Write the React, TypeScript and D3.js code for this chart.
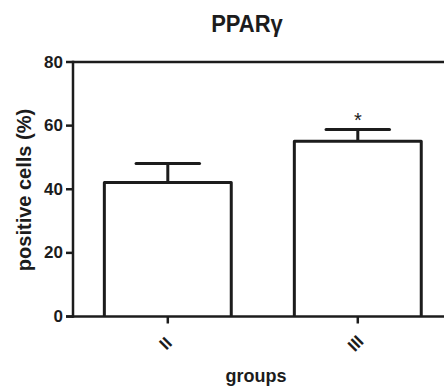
import React from "react";
import * as d3 from "d3";

const categories = ["II", "III"];
const means = [42.1, 55.1];
const errors = [6.0, 3.7];
const significance = ["", "*"];
const yTicks = [0, 20, 40, 60, 80];
const title = "PPARγ";
const yLabel = "positive cells (%)";
const xLabel = "groups";

const W = 444;
const H = 392;
const FONT = "'Liberation Sans', Arial, Helvetica, sans-serif";
const INK = "#1c1c1c";

export default function App() {
  const left = 73;
  const y = d3.scaleLinear().domain([0, 80]).range([316.5, 62]);
  const x = d3
    .scaleBand<string>()
    .domain(categories)
    .range([left, 452.6])
    .paddingInner(0.332)
    .paddingOuter(0.165);
  const bw = x.bandwidth();

  return (
    <svg width={W} height={H} style={{ position: "absolute", left: 0, top: 0, background: "#fff" }}>
      <text
        transform="translate(247,31.5) scale(1,1.06)"
        textAnchor="middle"
        fontFamily={FONT}
        fontWeight="bold"
        fontSize={22}
        fill={INK}
      >
        {title}
      </text>
      {/* frame top */}
      <line x1={left} x2={W} y1={y(80)} y2={y(80)} stroke={INK} strokeWidth={2.5} />
      {/* y axis */}
      <line x1={left} x2={left} y1={y(80) - 1.2} y2={y(0) + 1.2} stroke={INK} strokeWidth={2.5} />
      {yTicks.map((t) => (
        <g key={t}>
          <line x1={left - 7} x2={left} y1={y(t)} y2={y(t)} stroke={INK} strokeWidth={2.5} />
          <text
            x={left - 10}
            y={y(t)}
            textAnchor="end"
            dominantBaseline="central"
            fontFamily={FONT}
            fontWeight="bold"
            fontSize={17}
            fill={INK}
          >
            {t}
          </text>
        </g>
      ))}
      {/* bars */}
      {categories.map((c, i) => {
        const x0 = x(c)!;
        const cx = x0 + bw / 2;
        const top = y(means[i]);
        const et = y(means[i] + errors[i]);
        return (
          <g key={c}>
            <path
              d={`M${x0},${y(0)}V${top}H${x0 + bw}V${y(0)}`}
              fill="#fff"
              stroke={INK}
              strokeWidth={3}
              strokeLinejoin="round"
            />
            <line x1={cx} x2={cx} y1={top} y2={et} stroke={INK} strokeWidth={3} />
            <line x1={cx - bw / 4} x2={cx + bw / 4} y1={et} y2={et} stroke={INK} strokeWidth={3} strokeLinecap="round" />
            {significance[i] && (
              <text x={cx} y={et - 2} textAnchor="middle" fontFamily={FONT} fontSize={20} fill={INK}>
                {significance[i]}
              </text>
            )}
          </g>
        );
      })}
      {/* x axis */}
      <line x1={left - 7} x2={W} y1={y(0)} y2={y(0)} stroke={INK} strokeWidth={2.5} />
      {categories.map((c) => {
        const cx = x(c)! + bw / 2;
        return (
          <g key={c}>
            <line x1={cx} x2={cx} y1={y(0)} y2={y(0) + 7} stroke={INK} strokeWidth={2.5} />
            <text
              transform={`translate(${cx - 2},${y(0) + 27}) rotate(-45)`}
              textAnchor="middle"
              dominantBaseline="central"
              fontFamily={FONT}
              fontWeight="bold"
              fontSize={17}
              fill={INK}
            >
              {c}
            </text>
          </g>
        );
      })}
      <text
        transform={`translate(31,190) rotate(-90)`}
        textAnchor="middle"
        fontFamily={FONT}
        fontWeight="bold"
        fontSize={20}
        fill={INK}
      >
        {yLabel}
      </text>
      <text x={256} y={381.5} textAnchor="middle" fontFamily={FONT} fontWeight="bold" fontSize={18} fill={INK}>
        {xLabel}
      </text>
    </svg>
  );
}
